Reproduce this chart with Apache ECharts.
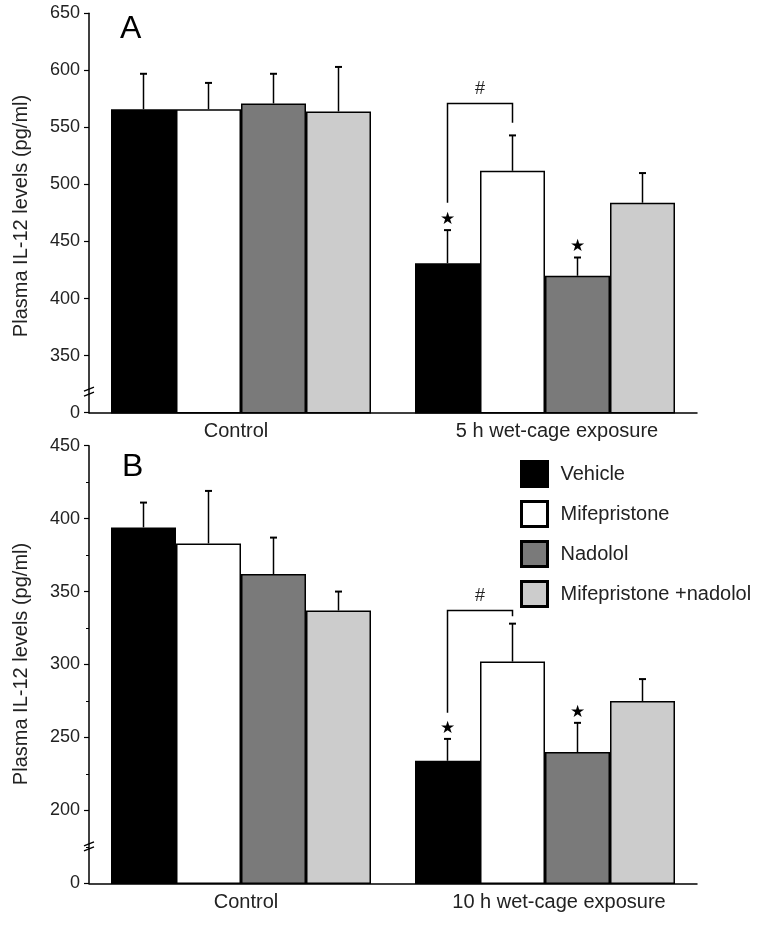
<!DOCTYPE html>
<html>
<head>
<meta charset="utf-8">
<script src="https://cdn.jsdelivr.net/npm/echarts@6/dist/echarts.min.js"></script>
<style>html,body{margin:0;padding:0;background:#fff;}#c{width:762px;height:925px;}</style>
</head>
<body>
<div id="c"></div>
<script>
// ---- data ----
const seriesNames = ['Vehicle', 'Mifepristone', 'Nadolol', 'Mifepristone +nadolol'];
const categoriesA = ['Control', '5 h wet-cage exposure'];
const categoriesB = ['Control', '10 h wet-cage exposure'];

// Panel A means and SEM
const vehicleA = [566, 431];
const vehicleErrA = [31, 29];
const mifeA = [566, 512];
const mifeErrA = [23, 31];
const nadololA = [571, 420];
const nadololErrA = [26, 16];
const comboA = [564, 484];
const comboErrA = [39, 26];

// Panel B means and SEM
const vehicleB = [394, 234];
const vehicleErrB = [17, 15];
const mifeB = [383, 302];
const mifeErrB = [36, 26];
const nadololB = [362, 240];
const nadololErrB = [25, 20];
const comboB = [337, 275];
const comboErrB = [13, 15];

// y tick labels (lowest tick is the broken-axis "0")
const ticksA = ['0', '350', '400', '450', '500', '550', '600', '650'];
const ticksB = ['0', '200', '250', '300', '350', '400', '450'];

// significance marks: [category, bar index]
const starsA = [[1, 0], [1, 2]];
const starsB = [[1, 0], [1, 2]];
// bracket: [category, leftBar, rightBar, topValue, leftBottomValue, rightBottomValue]
const bracketA = [[1, 0, 1, 571, 484, 554]];
const bracketB = [[1, 0, 1, 337, 267, 333]];

const colors = ['#000000', '#ffffff', '#7a7a7a', '#cccccc'];
const BAR_W = 65;
const TXT = '#222222';
const FONT = 'Liberation Sans, Arial, sans-serif';

const meansA = [vehicleA, mifeA, nadololA, comboA];
const errsA = [vehicleErrA, mifeErrA, nadololErrA, comboErrA];
const meansB = [vehicleB, mifeB, nadololB, comboB];
const errsB = [vehicleErrB, mifeErrB, nadololErrB, comboErrB];

const chart = echarts.init(document.getElementById('c'), null, {renderer: 'canvas'});

function barOffset(i) { return (i - 1.5) * BAR_W; }

function yAxisCfg(grid, min, max, ticks, minor) {
  return {
    type: 'value', gridIndex: grid, min: min, max: max, interval: 50,
    axisLine: {show: true, lineStyle: {color: '#000', width: 1.5}},
    axisTick: {show: true, length: 5, lineStyle: {color: '#000', width: 1.2}},
    minorTick: {show: minor, splitNumber: 2, length: 3, lineStyle: {color: '#000', width: 1}},
    splitLine: {show: false},
    axisLabel: {
      fontSize: 18, color: TXT, fontFamily: FONT, margin: 9,
      formatter: function (v) { return ticks[Math.round((v - min) / 50)]; }
    }
  };
}

function xAxisCfg(grid, cats, pads) {
  return {
    type: 'category', gridIndex: grid,
    data: cats.map((c, i) => ({value: c, textStyle: {padding: pads[i]}})),
    axisLine: {show: true, lineStyle: {color: '#000', width: 1.5}},
    axisTick: {show: false},
    axisLabel: {fontSize: 20, color: TXT, fontFamily: FONT, margin: 9, interval: 0}
  };
}

function barSeries(grid, means) {
  return means.map((m, i) => ({
    name: seriesNames[i], type: 'bar', xAxisIndex: grid, yAxisIndex: grid,
    data: m, barWidth: BAR_W, barGap: '0%',
    itemStyle: {color: colors[i], borderColor: '#000', borderWidth: 1.5},
    emphasis: {disabled: true}, z: 2
  }));
}

function errSeries(grid, means, errs) {
  const data = [];
  means.forEach((m, i) => m.forEach((v, c) => data.push([c, v, errs[i][c], i])));
  return {
    type: 'custom', xAxisIndex: grid, yAxisIndex: grid, silent: true, z: 3,
    data: data,
    renderItem: function (params, api) {
      const c = api.value(0), v = api.value(1), e = api.value(2), i = api.value(3);
      const p0 = api.coord([c, v]);
      const p1 = api.coord([c, v + e]);
      const x = p0[0] + barOffset(i);
      return {
        type: 'group', children: [
          {type: 'line', shape: {x1: x, y1: p0[1], x2: x, y2: p1[1]}, style: {stroke: '#000', lineWidth: 1.5}},
          {type: 'line', shape: {x1: x - 3.5, y1: p1[1], x2: x + 3.5, y2: p1[1]}, style: {stroke: '#000', lineWidth: 2}}
        ]
      };
    }
  };
}

function starSeries(grid, stars, means, errs) {
  return {
    type: 'custom', xAxisIndex: grid, yAxisIndex: grid, silent: true, z: 4,
    data: stars.map(s => [s[0], means[s[1]][s[0]] + errs[s[1]][s[0]], s[1]]),
    renderItem: function (params, api) {
      const p = api.coord([api.value(0), api.value(1)]);
      return {
        type: 'text', x: p[0] + barOffset(api.value(2)), y: p[1] - 2,
        style: {text: '\u2605', fontSize: 17, fill: '#000', align: 'center', verticalAlign: 'bottom', fontFamily: 'DejaVu Sans'}
      };
    }
  };
}

function bracketSeries(grid, brackets) {
  return {
    type: 'custom', xAxisIndex: grid, yAxisIndex: grid, silent: true, z: 4,
    data: brackets,
    renderItem: function (params, api) {
      const c = api.value(0);
      const xl = api.coord([c, 0])[0] + barOffset(api.value(1));
      const xr = api.coord([c, 0])[0] + barOffset(api.value(2));
      const yt = api.coord([c, api.value(3)])[1];
      const yl = api.coord([c, api.value(4)])[1];
      const yr = api.coord([c, api.value(5)])[1];
      return {
        type: 'group', children: [
          {type: 'polyline', shape: {points: [[xl, yl], [xl, yt], [xr, yt], [xr, yr]]}, style: {stroke: '#000', lineWidth: 1.5, fill: null}},
          {type: 'text', x: (xl + xr) / 2, y: yt - 5, style: {text: '#', fontSize: 18, fill: TXT, align: 'center', verticalAlign: 'bottom', fontFamily: FONT}}
        ]
      };
    }
  };
}

const option = {
  backgroundColor: '#fff',
  animation: false,
  grid: [
    {left: 89, right: 65, top: 13.3, bottom: 512.3},
    {left: 89, right: 65, top: 445.7, bottom: 41.7}
  ],
  xAxis: [
    xAxisCfg(0, categoriesA, [[0, 10, 0, 0], [0, 0, 0, 24]]),
    xAxisCfg(1, categoriesB, [[0, 0, 0, 10], [0, 0, 0, 28]])
  ],
  yAxis: [
    yAxisCfg(0, 300, 650, ticksA, false),
    yAxisCfg(1, 150, 450, ticksB, true)
  ],
  legend: {
    data: seriesNames, orient: 'vertical', left: 515, top: 455,
    icon: 'rect', itemWidth: 26, itemHeight: 25, itemGap: 12,
    itemStyle: {borderColor: '#000', borderWidth: 3},
    selectedMode: false,
    textStyle: {fontSize: 20, color: TXT, fontFamily: FONT, padding: [0, 0, 0, 8]}
  },
  title: [
    {text: 'A', left: 115, top: 8, textStyle: {fontSize: 32, fontWeight: 'normal', color: '#000', fontFamily: FONT}},
    {text: 'B', left: 117, top: 446, textStyle: {fontSize: 32, fontWeight: 'normal', color: '#000', fontFamily: FONT}}
  ],
  graphic: [
    {type: 'text', x: 21, y: 216, rotation: Math.PI / 2, style: {text: 'Plasma IL-12 levels (pg/ml)', fontSize: 20, fill: TXT, fontFamily: FONT, align: 'center', verticalAlign: 'middle'}},
    {type: 'text', x: 21, y: 664, rotation: Math.PI / 2, style: {text: 'Plasma IL-12 levels (pg/ml)', fontSize: 20, fill: TXT, fontFamily: FONT, align: 'center', verticalAlign: 'middle'}}
  ],
  series: [].concat(
    barSeries(0, meansA), barSeries(1, meansB),
    [errSeries(0, meansA, errsA), errSeries(1, meansB, errsB),
     starSeries(0, starsA, meansA, errsA), starSeries(1, starsB, meansB, errsB),
     bracketSeries(0, bracketA), bracketSeries(1, bracketB)]
  )
};
chart.setOption(option);

// axis-break marks on the y axes
function breakMark(yIdx, val) {
  const y = chart.convertToPixel({yAxisIndex: yIdx}, val);
  const x = 89;
  return {
    type: 'group', children: [
      {type: 'rect', shape: {x: x - 3, y: y - 3, width: 6, height: 6}, style: {fill: '#fff'}},
      {type: 'line', shape: {x1: x - 5, y1: y - 1, x2: x + 5, y2: y - 5}, style: {stroke: '#000', lineWidth: 1.2}},
      {type: 'line', shape: {x1: x - 5, y1: y + 4, x2: x + 5, y2: y}, style: {stroke: '#000', lineWidth: 1.2}}
    ]
  };
}
chart.setOption({graphic: option.graphic.concat([breakMark(0, 318), breakMark(1, 175)])});
</script>
</body>
</html>
